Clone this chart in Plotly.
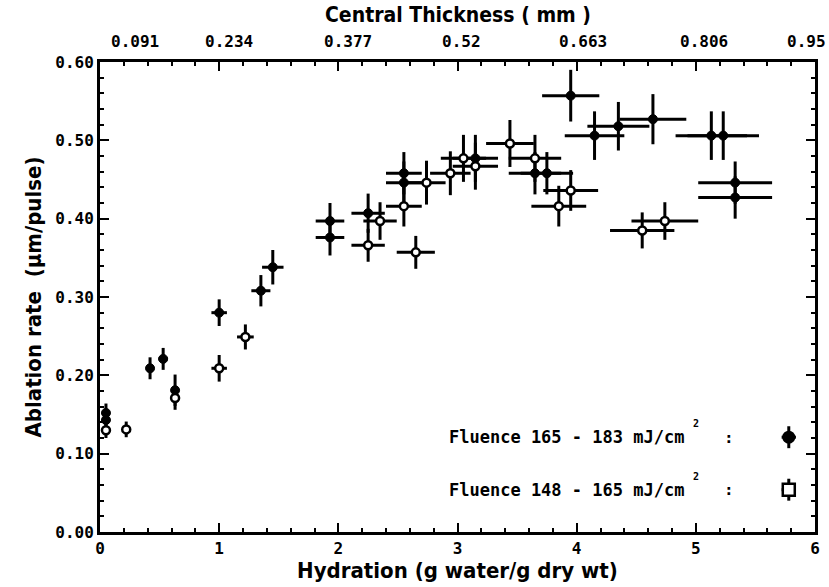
import plotly.graph_objects as go

# ---- data: Fluence 165 - 183 mJ/cm2 (filled)
hi_x = [0.05, 0.05, 0.42, 0.53, 0.63, 1.0, 1.35, 1.45, 1.93, 1.93, 2.25, 2.55, 2.55, 3.15,
        3.65, 3.75, 3.95, 4.15, 4.35, 4.64, 5.13, 5.23, 5.33, 5.33]
hi_y = [0.152, 0.143, 0.209, 0.221, 0.181, 0.280, 0.308, 0.338, 0.397, 0.376, 0.407, 0.458,
        0.446, 0.477, 0.458, 0.458, 0.557, 0.506, 0.518, 0.527, 0.506, 0.506, 0.446, 0.427]
hi_ex = [0.02, 0.02, 0.03, 0.04, 0.03, 0.065, 0.08, 0.09, 0.12, 0.12, 0.14, 0.15, 0.15, 0.19,
         0.22, 0.22, 0.24, 0.25, 0.26, 0.28, 0.30, 0.30, 0.31, 0.31]
hi_ey = [0.012, 0.012, 0.014, 0.014, 0.02, 0.017, 0.02, 0.022, 0.023, 0.023, 0.025, 0.027,
         0.027, 0.03, 0.027, 0.027, 0.033, 0.031, 0.031, 0.032, 0.031, 0.031, 0.027, 0.027]

# ---- data: Fluence 148 - 165 mJ/cm2 (open)
lo_x = [0.05, 0.22, 0.63, 1.0, 1.22, 2.25, 2.35, 2.55, 2.65, 2.74, 2.94, 3.05, 3.15, 3.44,
        3.65, 3.85, 3.95, 4.55, 4.74]
lo_y = [0.130, 0.131, 0.171, 0.209, 0.249, 0.366, 0.397, 0.416, 0.357, 0.446, 0.458, 0.477,
        0.467, 0.496, 0.477, 0.416, 0.436, 0.385, 0.397]
lo_ex = [0.02, 0.03, 0.03, 0.065, 0.07, 0.14, 0.14, 0.15, 0.16, 0.16, 0.17, 0.19, 0.19, 0.2,
         0.22, 0.23, 0.23, 0.27, 0.28]
lo_ey = [0.01, 0.01, 0.015, 0.017, 0.016, 0.021, 0.024, 0.026, 0.021, 0.028, 0.028, 0.03,
         0.03, 0.03, 0.03, 0.026, 0.026, 0.023, 0.024]

x_ticks = [0, 1, 2, 3, 4, 5, 6]
y_ticks = [0.0, 0.1, 0.2, 0.3, 0.4, 0.5, 0.6]
top_labels = ["0.091", "0.234", "0.377", "0.52", "0.663", "0.806", "0.95"]
top_label_pos = [0.29, 1.08, 2.08, 3.03, 4.05, 5.07, 5.93]

legend_text = ["Fluence 165 - 183 mJ/cm", "Fluence 148 - 165 mJ/cm"]
legend_y = [0.121, 0.054]
legend_x = 5.78

mono = "DejaVu Sans Mono"
narrow = "DejaVu Sans Condensed, Liberation Sans Narrow, Roboto Condensed, DejaVu Sans"

fig = go.Figure()

bar = dict(type="data", thickness=3, width=0, color="black")

fig.add_trace(go.Scatter(
    x=hi_x, y=hi_y, mode="markers",
    error_x=dict(array=hi_ex, **bar), error_y=dict(array=hi_ey, **bar),
    marker=dict(size=9, color="black", line=dict(width=1, color="black")),
    showlegend=False, cliponaxis=False))

fig.add_trace(go.Scatter(
    x=lo_x, y=lo_y, mode="markers",
    error_x=dict(array=lo_ex, **bar), error_y=dict(array=lo_ey, **bar),
    marker=dict(size=8, color="white", line=dict(width=2.5, color="black")),
    showlegend=False, cliponaxis=False))

# legend symbols
fig.add_trace(go.Scatter(
    x=[legend_x], y=[legend_y[0]], mode="markers",
    error_x=dict(array=[0.06], **bar), error_y=dict(array=[0.014], **bar),
    marker=dict(size=13, color="black"), showlegend=False))
fig.add_trace(go.Scatter(
    x=[legend_x], y=[legend_y[1]], mode="markers",
    error_x=dict(array=[0.06], **bar), error_y=dict(array=[0.014], **bar),
    marker=dict(size=12, symbol="square", color="white", line=dict(width=2.5, color="black")),
    showlegend=False))

ann = []
for t, yv in zip(legend_text, legend_y):
    ann.append(dict(x=4.92, y=yv, xref="x", yref="y", text=t, showarrow=False,
                    xanchor="right", font=dict(family=mono, size=17, color="black", weight="bold")))
    ann.append(dict(x=5.0, y=yv + 0.017, xref="x", yref="y", text="2", showarrow=False,
                    xanchor="center", font=dict(family=mono, size=10, color="black", weight="bold")))
    ann.append(dict(x=5.28, y=yv, xref="x", yref="y", text=":", showarrow=False,
                    xanchor="center", font=dict(family=mono, size=16, color="black", weight="bold")))

for t, xv in zip(top_labels, top_label_pos):
    ann.append(dict(x=xv, y=1, xref="x", yref="paper", text=t, showarrow=False,
                    yanchor="bottom", yshift=9,
                    font=dict(family=mono, size=16, color="black", weight="bold")))

ann.append(dict(x=0.5, y=1, xref="paper", yref="paper", text="Central Thickness ( mm )",
                showarrow=False, yanchor="bottom", yshift=33,
                font=dict(family=narrow, size=21, color="black", weight="bold")))

axis_common = dict(showline=True, linecolor="black", linewidth=3, mirror="ticks",
                   ticks="inside", tickcolor="black", tickwidth=2, ticklen=9,
                   showgrid=False, zeroline=False)

fig.update_layout(
    width=829, height=587,
    margin=dict(l=100, r=9, t=62, b=55),
    paper_bgcolor="white", plot_bgcolor="white",
    annotations=ann,
    xaxis=dict(range=[0, 6], tickvals=x_ticks, ticktext=[str(v) for v in x_ticks],
               tickfont=dict(family=mono, size=16, color="black", weight="bold"),
               minor=dict(dtick=0.2, ticks="inside", ticklen=4, tickwidth=2, tickcolor="black"),
               title=dict(text="Hydration (g water/g dry wt)", standoff=0,
                          font=dict(family=narrow, size=22, color="black", weight="bold")),
               **axis_common),
    yaxis=dict(range=[0, 0.6], tickvals=y_ticks, ticktext=[f"{v:.2f}" for v in y_ticks],
               tickfont=dict(family=mono, size=16, color="black", weight="bold"),
               minor=dict(dtick=0.02, ticks="inside", ticklen=4, tickwidth=2, tickcolor="black"),
               title=dict(text="Ablation rate  (µm/pulse)", standoff=8,
                          font=dict(family=narrow, size=22, color="black", weight="bold")),
               **axis_common),
)

fig.write_html("out.html")
